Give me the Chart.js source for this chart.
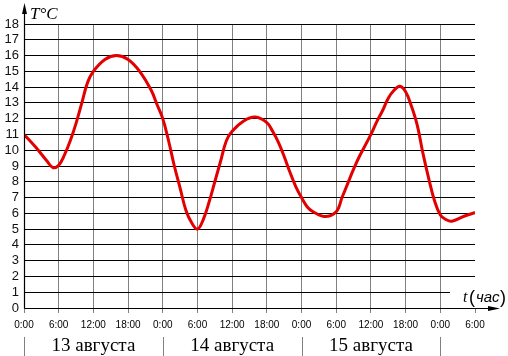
<!DOCTYPE html>
<html>
<head>
<meta charset="utf-8">
<script src="https://cdn.jsdelivr.net/npm/chart.js@4"></script>
<style>
  html, body { margin: 0; padding: 0; background: #fff; }
  canvas { display: block; }
</style>
</head>
<body>
<canvas id="chart" width="508" height="356"></canvas>
<script>
// hours since 13 Aug 0:00, temperature in °C
const hours = [0, 2, 4, 5, 6, 7, 8, 9, 10, 11, 12, 14, 16, 18, 20, 22, 23, 24,
    25, 26, 27, 28, 29, 30, 31, 32, 33, 34, 35, 36, 38, 40, 42, 43, 44, 45, 46, 47, 48,
    49, 50, 52, 54, 55, 56, 57, 58, 60, 61, 62, 63, 64, 65, 66, 67, 68, 69, 70, 71, 72,
    73, 74, 76, 78];
const temps = [11.0, 10.2, 9.3, 8.9, 9.05, 9.7, 10.6, 11.7, 13.0, 14.3, 15.0, 15.75, 16.0, 15.75, 15.0, 13.8, 12.9, 12.0,
    10.6, 9.0, 7.6, 6.2, 5.4, 5.0, 5.6, 6.7, 8.0, 9.3, 10.6, 11.2, 11.85, 12.1, 11.75, 11.2, 10.5, 9.6, 8.6, 7.7, 7.0,
    6.4, 6.1, 5.8, 6.1, 7.0, 7.9, 8.8, 9.6, 11.0, 11.8, 12.5, 13.3, 13.8, 14.05, 13.7, 12.8, 11.6, 9.8, 8.2, 6.8, 5.9,
    5.6, 5.5, 5.8, 6.05];
const dayLabels = ['13 августа', '14 августа', '15 августа'];
const dayStarts = [0, 24, 48, 72];

const SANS = '"Liberation Sans Narrow", "Liberation Sans", Arial, sans-serif';
const SERIF = '"Liberation Serif", "DejaVu Serif", "Times New Roman", Times, serif';

const decorPlugin = {
    id: 'decor',
    beforeDatasetsDraw(chart) {
        const { ctx, chartArea } = chart;
        const x = chart.scales.x, y = chart.scales.y;
        ctx.save();
        // shortened 1°C line (label t(час) sits at its end)
        ctx.strokeStyle = '#000';
        ctx.lineWidth = 1;
        const y1 = Math.round(y.getPixelForValue(1)) + 0.5;
        ctx.beginPath();
        ctx.moveTo(chartArea.left, y1);
        ctx.lineTo(450, y1);
        ctx.stroke();
        // day separators below the axis
        ctx.strokeStyle = '#808080';
        dayStarts.forEach(h => {
            const px = Math.round(x.getPixelForValue(h)) + 0.5;
            ctx.beginPath();
            ctx.moveTo(px, 337);
            ctx.lineTo(px, 356);
            ctx.stroke();
        });
        ctx.restore();
    },
    afterDraw(chart) {
        const { ctx, chartArea } = chart;
        const x = chart.scales.x;
        const ax = chartArea.left + 0.5;
        const ay = chartArea.bottom + 0.5;
        ctx.save();
        ctx.strokeStyle = '#000';
        ctx.fillStyle = '#000';
        ctx.lineWidth = 1.2;
        // axes with arrows
        ctx.beginPath();
        ctx.moveTo(ax, ay);
        ctx.lineTo(ax, 8);
        ctx.moveTo(ax, ay);
        ctx.lineTo(494, ay);
        ctx.stroke();
        ctx.beginPath();
        ctx.moveTo(ax, 3);
        ctx.lineTo(ax - 2.5, 14);
        ctx.lineTo(ax + 2.5, 14);
        ctx.closePath();
        ctx.fill();
        ctx.beginPath();
        ctx.moveTo(500, ay);
        ctx.lineTo(488, ay - 2.5);
        ctx.lineTo(488, ay + 2.5);
        ctx.closePath();
        ctx.fill();

        // axis titles
        ctx.textBaseline = 'alphabetic';
        ctx.textAlign = 'left';
        ctx.font = 'italic 17px ' + SERIF;
        ctx.fillText('T°C', 30, 19);
        ctx.font = 'italic 16px ' + SERIF;
        ctx.fillText('t', 463, 302);
        ctx.font = '18px "Liberation Sans", sans-serif';
        ctx.fillText('(', 469, 303);
        ctx.font = 'italic 15px "Liberation Sans", sans-serif';
        ctx.fillText('час', 476, 302);
        ctx.font = '18px "Liberation Sans", sans-serif';
        ctx.fillText(')', 500, 303);

        // day captions
        ctx.textAlign = 'center';
        ctx.font = '19px ' + SERIF;
        dayLabels.forEach((label, i) => {
            const cx = x.getPixelForValue(dayStarts[i] + 12);
            ctx.fillText(label, cx, 351);
        });
        ctx.restore();
    }
};

new Chart(document.getElementById('chart'), {
    type: 'line',
    data: {
        datasets: [{
            data: hours.map((h, i) => ({ x: h, y: temps[i] })),
            borderColor: '#e30000',
            borderWidth: 3,
            pointRadius: 0,
            fill: false,
            tension: 0.4,
        }],
    },
    options: {
        responsive: false,
        animation: false,
        layout: { padding: { top: 24, right: 33, left: 0, bottom: 0 } },
        plugins: {
            legend: { display: false },
            tooltip: { enabled: false },
        },
        scales: {
            x: {
                type: 'linear',
                min: 0,
                max: 78,
                afterFit: s => { s.height = 48; },
                border: { display: false },
                grid: {
                    color: c => (c.tick && (c.tick.value === 0 || c.tick.value === 78)) ? 'rgba(0,0,0,0)' : '#808080',
                    tickColor: '#808080',
                    tickLength: 5,
                    lineWidth: 1,
                },
                ticks: {
                    stepSize: 6,
                    autoSkip: false,
                    maxRotation: 0,
                    padding: 6,
                    color: '#000',
                    font: { family: SANS, size: 10 },
                    callback: v => (v % 24) + ':00',
                },
            },
            y: {
                min: 0,
                max: 18,
                afterFit: s => { s.width = 24; },
                border: { display: false },
                grid: {
                    color: c => (c.tick && (c.tick.value === 0 || c.tick.value === 1)) ? 'rgba(0,0,0,0)' : '#000',
                    drawTicks: false,
                    lineWidth: 1,
                },
                ticks: {
                    stepSize: 1,
                    autoSkip: false,
                    padding: 5,
                    color: '#111',
                    font: { family: SANS, size: 13 },
                },
            },
        },
    },
    plugins: [decorPlugin],
});
</script>
</body>
</html>
